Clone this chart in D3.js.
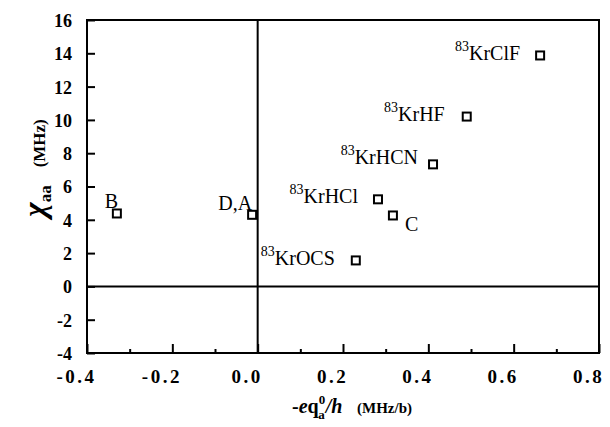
<!DOCTYPE html>
<html>
<head>
<meta charset="utf-8">
<script src="https://cdn.jsdelivr.net/npm/d3@7"></script>
<style>
  body { margin: 0; background: #fff; }
  svg { display: block; }
  .axis line { stroke: #000; stroke-width: 2; }
</style>
</head>
<body>
<div id="chart"></div>
<script>
// molecules / points
const names = ["B", "D,A", "KrOCS", "KrHCl", "C", "KrHCN", "KrHF", "KrClF"];
const isotopes = ["", "", "83", "83", "", "83", "83", "83"];
const eqa = [-0.33, -0.013, 0.230, 0.282, 0.317, 0.411, 0.490, 0.662];
const chiAA = [4.38, 4.3, 1.56, 5.23, 4.26, 7.33, 10.2, 13.87];

const xTicks = [-0.4, -0.2, 0.0, 0.2, 0.4, 0.6, 0.8];
const xMinorTicks = [-0.3, -0.1, 0.1, 0.3, 0.5, 0.7];
const yTicks = [-4, -2, 0, 2, 4, 6, 8, 10, 12, 14, 16];

// label placement relative to each point (anchor, dx, dy)
const labelPos = [
  ["start", -12, -5], ["end", 0, -5], ["end", -21, 5], ["end", -20, 4],
  ["start", 12, 16], ["end", -15, 0], ["end", -22, 4], ["end", -20, 5]
];

(function () {
  const W = 610, H = 427;
  const m = {left: 87, right: 599, top: 20, bottom: 353};
  const SERIF = '"Liberation Serif", serif';

  function boldText(sel) {
    return sel.style("font-family", SERIF).style("font-weight", "bold").style("fill", "#000");
  }

  const svg = d3.select("#chart").append("svg")
    .attr("width", W)
    .attr("height", H);

  const x = d3.scaleLinear().domain([-0.4, 0.8]).range([m.left, m.right]);
  const y = d3.scaleLinear().domain([-4, 16]).range([m.bottom, m.top]);

  // minor x ticks
  svg.append("g")
    .attr("class", "axis")
    .attr("transform", "translate(0," + m.bottom + ")")
    .call(d3.axisBottom(x).tickValues(xMinorTicks).tickSize(-4).tickFormat(""))
    .call(g => g.select(".domain").remove());

  // major x ticks + labels
  svg.append("g")
    .attr("class", "axis")
    .attr("transform", "translate(0," + m.bottom + ")")
    .call(d3.axisBottom(x).tickValues(xTicks).tickSize(-9).tickPadding(17)
      .tickFormat(d => d.toFixed(1)))
    .call(g => g.select(".domain").remove())
    .call(g => boldText(g.selectAll("text"))
      .style("font-size", "19px")
      .style("letter-spacing", "2.5px")
      .attr("dx", -11));

  // y axis
  svg.append("g")
    .attr("class", "axis")
    .attr("transform", "translate(" + m.left + ",0)")
    .call(d3.axisLeft(y).tickValues(yTicks).tickSize(-8).tickPadding(15)
      .tickFormat(d => String(d)))
    .call(g => g.select(".domain").remove())
    .call(g => boldText(g.selectAll("text")).style("font-size", "18px").attr("dy", "0.36em"));

  // frame
  svg.append("rect")
    .attr("x", m.left).attr("y", m.top)
    .attr("width", m.right - m.left).attr("height", m.bottom - m.top)
    .attr("fill", "none").attr("stroke", "#000").attr("stroke-width", 2);

  // zero lines
  svg.append("line")
    .attr("x1", m.left).attr("x2", m.right)
    .attr("y1", y(0)).attr("y2", y(0))
    .attr("stroke", "#000").attr("stroke-width", 2);
  svg.append("line")
    .attr("x1", x(0)).attr("x2", x(0))
    .attr("y1", m.top).attr("y2", m.bottom)
    .attr("stroke", "#000").attr("stroke-width", 2);

  // points
  const pts = names.map((n, i) => ({ name: n, iso: isotopes[i], x: eqa[i], y: chiAA[i], pos: labelPos[i] }));

  svg.append("g").selectAll("rect")
    .data(pts)
    .join("rect")
    .attr("x", d => x(d.x) - 4)
    .attr("y", d => y(d.y) - 4)
    .attr("width", 8).attr("height", 8)
    .attr("fill", "#fff").attr("stroke", "#000").attr("stroke-width", 2);

  const lbl = svg.append("g").selectAll("text")
    .data(pts)
    .join("text")
    .style("font-family", SERIF)
    .style("font-size", "20px")
    .attr("text-anchor", d => d.pos[0])
    .attr("x", d => x(d.x) + d.pos[1])
    .attr("y", d => y(d.y) + d.pos[2]);

  lbl.each(function (d) {
    const t = d3.select(this);
    if (d.iso) {
      t.append("tspan").style("font-size", "14px").attr("dy", -9).text(d.iso);
      t.append("tspan").attr("dy", 9).text(d.name);
    } else {
      t.text(d.name);
    }
  });

  // y title
  const yt = boldText(svg.append("text"))
    .attr("transform", "translate(45,168) rotate(-90)")
    .attr("text-anchor", "middle");
  yt.append("tspan").style("font-size", "31px").style("font-style", "italic").text("χ");
  yt.append("tspan").style("font-size", "17px").attr("dy", 6).text("aa");
  yt.append("tspan").style("font-size", "17px").attr("dy", -6).attr("dx", 18).text("(MHz)");

  // x title
  const xt = boldText(svg.append("text"))
    .attr("x", 292).attr("y", 413)
    .style("font-size", "20px");
  xt.append("tspan").text("-");
  xt.append("tspan").style("font-style", "italic").text("e");
  xt.append("tspan").text("q");
  xt.append("tspan").style("font-size", "13px").attr("dy", -9).text("0");
  xt.append("tspan").style("font-size", "13px").attr("dx", -7).attr("dy", 15).text("a");
  xt.append("tspan").style("font-style", "italic").attr("dx", 1).attr("dy", -6).text("/h");

  boldText(svg.append("text"))
    .attr("x", 357).attr("y", 413)
    .style("font-size", "15px")
    .text("(MHz/b)");
})();
</script>
</body>
</html>
